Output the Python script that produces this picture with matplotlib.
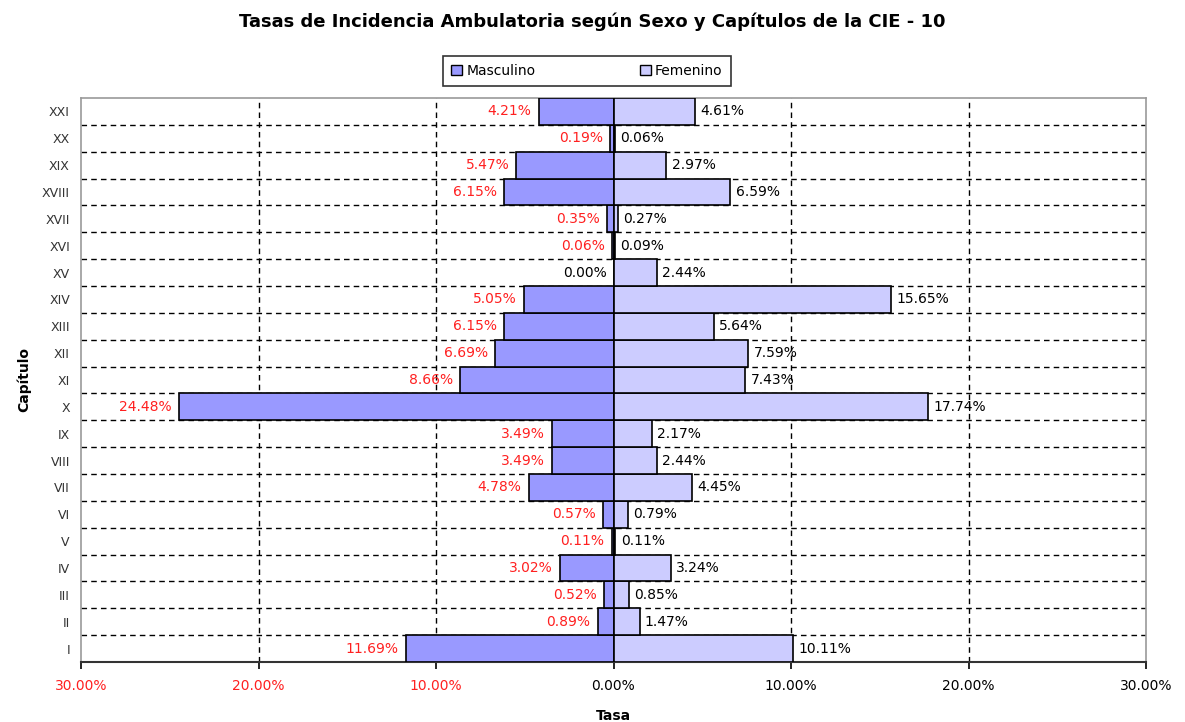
import matplotlib
matplotlib.use("Agg")
import matplotlib.pyplot as plt
import numpy as np
from matplotlib.patches import Patch

plt.rcParams['font.family'] = ['DejaVu Sans']

categories = ["I", "II", "III", "IV", "V", "VI", "VII", "VIII", "IX", "X", "XI",
              "XII", "XIII", "XIV", "XV", "XVI", "XVII", "XVIII", "XIX", "XX", "XXI"]
masculino = [11.69, 0.89, 0.52, 3.02, 0.11, 0.57, 4.78, 3.49, 3.49, 24.48, 8.66,
             6.69, 6.15, 5.05, 0.00, 0.06, 0.35, 6.15, 5.47, 0.19, 4.21]
femenino = [10.11, 1.47, 0.85, 3.24, 0.11, 0.79, 4.45, 2.44, 2.17, 17.74, 7.43,
            7.59, 5.64, 15.65, 2.44, 0.09, 0.27, 6.59, 2.97, 0.06, 4.61]
xticks = [-30, -20, -10, 0, 10, 20, 30]

c_m = "#9999FF"
c_f = "#CCCCFF"
red = "#FF2020"

fig = plt.figure(figsize=(11.85, 7.22), dpi=100)
ax = fig.add_axes([81/1185, 1-662/722, (1146-81)/1185, (662-98)/722])

y = np.arange(len(categories))
m_vals = -np.array(masculino)
f_vals = np.array(femenino)

# grid lines
for k in range(len(categories) - 1):
    ax.axhline(k + 0.5, color="black", lw=1.0, ls=(0, (4, 3)), zorder=1)
for xv in [-20, -10, 10, 20]:
    ax.axvline(xv, color="black", lw=1.0, ls=(0, (4, 3)), zorder=1)

ax.barh(y, m_vals, height=1.0, color=c_m, edgecolor="black", lw=1.2, zorder=3)
ax.barh(y, f_vals, height=1.0, color=c_f, edgecolor="black", lw=1.2, zorder=3)

for yi, mv, fv in zip(y, masculino, femenino):
    col = red if mv > 0 else "black"
    ax.text(-mv - 0.4, yi, f"{mv:.2f}%", ha="right", va="center", fontsize=10, color=col, zorder=4)
    ax.text(fv + 0.3, yi, f"{fv:.2f}%", ha="left", va="center", fontsize=10, color="black", zorder=4)

ax.set_xlim(-30, 30)
ax.set_ylim(-0.5, len(categories) - 0.5)
ax.set_xticks(xticks)
ax.set_xticklabels([f"{abs(v):.2f}%" for v in xticks], fontsize=10)
ax.set_yticks(y)
ax.set_yticklabels(categories, fontsize=9, color="#333333")
ax.tick_params(axis="y", length=0, pad=8)
ax.tick_params(axis="x", length=5, width=1.2, direction="out", pad=7, colors="black")
for lbl, v in zip(ax.get_xticklabels(), xticks):
    lbl.set_color(red if v < 0 else "black")

for s in ["left", "top", "right"]:
    ax.spines[s].set_color("#999999")
    ax.spines[s].set_linewidth(1.2)
ax.spines["bottom"].set_color("#333333")
ax.spines["bottom"].set_linewidth(1.5)

ax.set_xlabel("Tasa", fontsize=10, fontweight="bold", labelpad=12)
ax.set_ylabel("Capítulo", fontsize=10, fontweight="bold", labelpad=8)

fig.text(0.5, 1-22/722, "Tasas de Incidencia Ambulatoria según Sexo y Capítulos de la CIE - 10",
         ha="center", va="center", fontsize=13, fontweight="bold")

handles = [Patch(facecolor=c_m, edgecolor="black", label="Masculino"),
           Patch(facecolor=c_f, edgecolor="black", label="Femenino")]
leg = fig.legend(handles=handles, loc="center", bbox_to_anchor=(587/1185, 1-71/722),
                 ncol=2, fontsize=10, frameon=True, fancybox=False, edgecolor="black",
                 handlelength=0.8, handleheight=0.8, handletextpad=0.3, columnspacing=7.5,
                 borderpad=0.6, borderaxespad=0)
leg.get_frame().set_linewidth(1.2)

fig.savefig("out.png", dpi=100)
